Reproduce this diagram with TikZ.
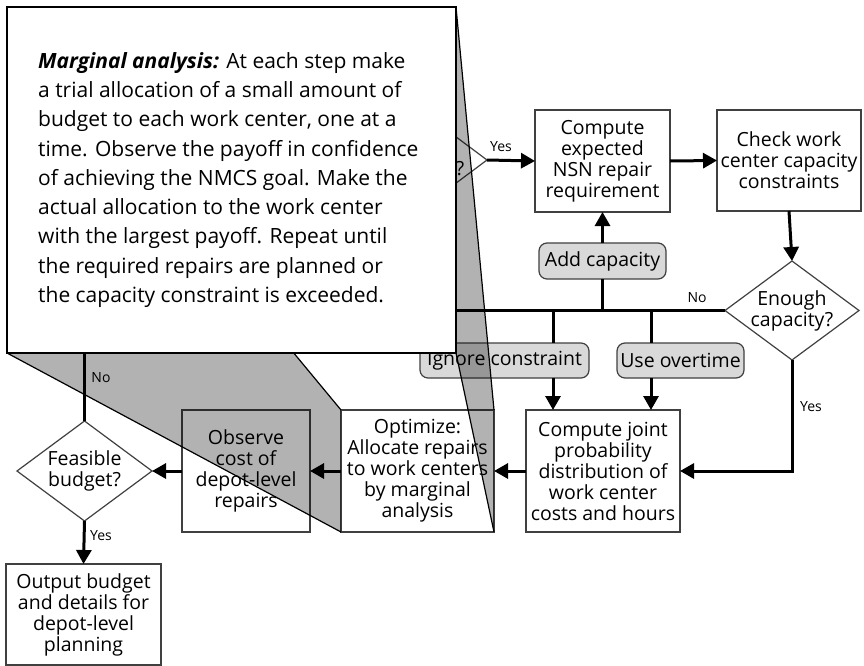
\documentclass[tikz,border=0pt]{standalone}
\usepackage{fontspec}
\setmainfont{Open Sans}
\usetikzlibrary{arrows.meta,shapes.geometric}
\begin{document}
\begin{tikzpicture}[x=1pt,y=-1pt,
  box/.style={draw=black!75,line width=1.2pt,fill=white,align=center,inner sep=0pt,outer sep=0pt,font=\fontsize{19.5}{21}\selectfont},
  optbox/.style={draw=black!75,line width=1.2pt,fill=black!15,rounded corners=8pt,inner sep=0pt,outer sep=0pt,font=\fontsize{19.5}{21}\selectfont},
  dia/.style={diamond,draw=black!75,line width=1.2pt,fill=white,inner sep=0pt,outer sep=0pt},
  diatext/.style={align=center,inner sep=0pt,font=\fontsize{19.5}{21}\selectfont},
  conn/.style={line width=3pt},
  arr/.style={conn,-{Triangle[length=14pt,width=15pt]}},
  lbl/.style={font=\fontsize{14}{16}\selectfont,inner sep=0pt},
  face/.style={fill=black,fill opacity=0.3},
  faceline/.style={draw=black,line width=1.2pt}
]
\useasboundingbox (0,0) rectangle (864,666);
\fill[white] (0,0) rectangle (864,666);

% top partial diamond
\node[dia,minimum width=134pt,minimum height=100pt] (top) at (420,160) {};
\node[diatext] (topq) at (460,169) {?};

% boxes
\node[box,minimum width=135pt,minimum height=102pt] (cexp) at (602.5,161) {Compute\\expected\\NSN repair\\requirement};
\node[box,minimum width=144pt,minimum height=101pt] (check) at (789,160.5) {Check work\\center capacity\\constraints};
\node[dia,minimum width=134pt,minimum height=99pt] (enough) at (792,310.5) {};
\node[diatext] (enoughtxt) at (enough) {Enough\\capacity?};
\node[optbox,minimum width=127pt,minimum height=36pt] (addcap) at (602.5,261) {Add capacity};
\node[optbox,minimum width=169pt,minimum height=35pt] (ignore) at (504.5,360.5) {Ignore constraint};
\node[optbox,minimum width=127pt,minimum height=35pt] (overtime) at (680.5,360.5) {Use overtime};
\node[box,minimum width=154pt,minimum height=122pt] (joint) at (603,471) {Compute joint\\probability\\distribution of\\work center\\costs and hours};
\node[box,minimum width=153pt,minimum height=122pt] (opt) at (417.5,471) {Optimize:\\Allocate repairs\\to work centers\\by marginal\\analysis};
\node[box,minimum width=128pt,minimum height=122pt] (observe) at (246,471) {Observe\\cost of\\depot-level\\repairs};
\node[dia,minimum width=135pt,minimum height=100pt] (feasible) at (84.5,471) {};
\node[diatext] (feastxt) at (feasible) {Feasible\\budget?};
\node[box,minimum width=155pt,minimum height=101pt] (output) at (83.5,614.5) {Output budget\\and details for\\depot-level\\planning};

% junction coordinates
\coordinate (nojoin) at (300,310.5);
\coordinate (j1) at (553,310.5);
\coordinate (j2) at (602.5,310.5);
\coordinate (j3) at (651,310.5);
\coordinate (fno) at (84.5,300);

% connectors
\draw[arr] (top.east) -- (cexp.west);
\draw[arr] (cexp.east) -- (check.west);
\draw[arr] (check.south) -- (enough.north);
\draw[conn] (enough.west) -- (nojoin);
\draw[conn] (j2) -- (addcap.south);
\draw[arr] (addcap.north) -- (cexp.south);
\draw[conn] (j1) -- (j1 |- ignore.north);
\draw[arr] (j1 |- ignore.south) -- (j1 |- joint.north);
\draw[conn] (j3) -- (j3 |- overtime.north);
\draw[arr] (j3 |- overtime.south) -- (j3 |- joint.north);
\draw[arr] (enough.south) -- (enough.south |- joint.east) -- (joint.east);
\draw[arr] (joint.west) -- (opt.east);
\draw[arr] (opt.west) -- (observe.east);
\draw[arr] (observe.west) -- (feasible.east);
\draw[arr] (feasible.south) -- (output.north);
\draw[conn] (feasible.north) -- (fno);

% labels
\node[lbl] (lyes1) at (501,147) {Yes};
\node[lbl] (lno1) at (697,298) {No};
\node[lbl] (lyes2) at (811,407) {Yes};
\node[lbl] (lno2) at (101,378) {No};
\node[lbl] (lyes3) at (101,536) {Yes};

% callout geometry
\coordinate (cnw) at (7,7);
\coordinate (cne) at (456,7);
\coordinate (csw) at (7,353);
\coordinate (cse) at (456,353);

% magnifier faces
\path[face] (cnw) -- (csw) -- (opt.south west) -- (opt.north west) -- cycle;
\path[face] (cne) -- (cse) -- (opt.south east) -- (opt.north east) -- cycle;
\draw[faceline] (cnw) -- (opt.north west);
\draw[faceline] (csw) -- (opt.south west);
\draw[faceline] (cne) -- (opt.north east);
\draw[faceline] (cse) -- (opt.south east);

% callout
\node[draw=black,line width=1.3pt,fill=white,inner sep=0pt,outer sep=0pt,minimum width=449pt,minimum height=346pt] (callout) at (231.5,180) {};
\node[anchor=north west,align=left,inner sep=0pt,font=\fontsize{21}{29.3}\selectfont] (ctext) at (38,52)
{\textbf{\textit{Marginal analysis:}} At each step make\\
a trial allocation of a small amount of\\
budget to each work center, one at a\\
time. Observe the payoff in confidence\\
of achieving the NMCS goal. Make the\\
actual allocation to the work center\\
with the largest payoff. Repeat until\\
the required repairs are planned or\\
the capacity constraint is exceeded.};
\end{tikzpicture}
\end{document}
